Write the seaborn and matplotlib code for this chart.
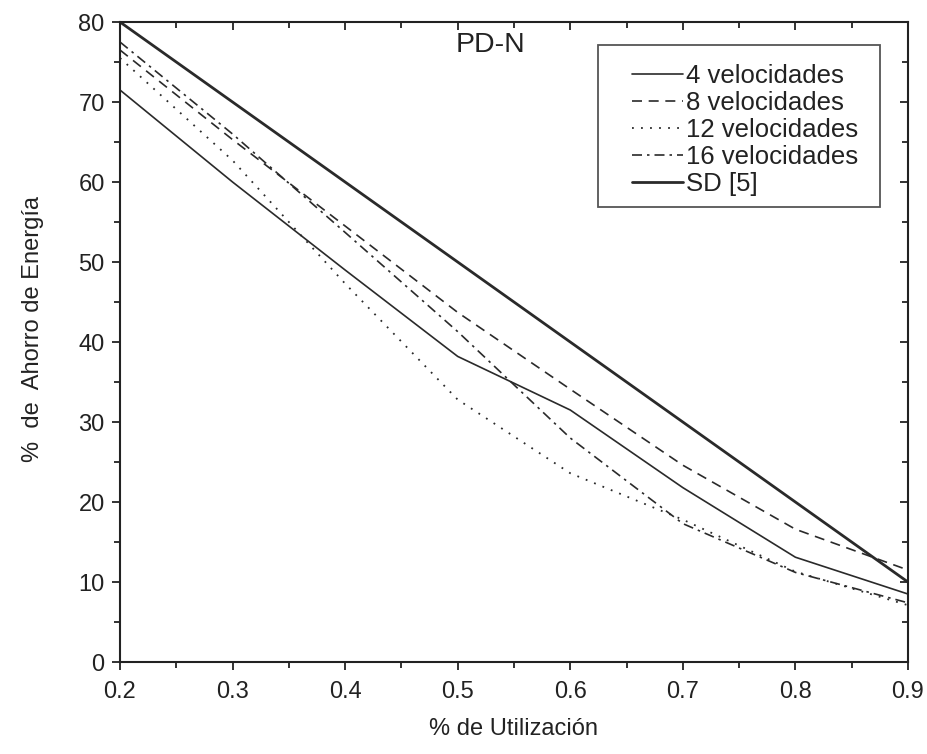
import matplotlib
matplotlib.use("Agg")
import matplotlib.pyplot as plt
from matplotlib.ticker import MultipleLocator
from matplotlib.patches import Rectangle
import seaborn as sns
import pandas as pd

utilizacion = [0.2, 0.3, 0.4, 0.5, 0.6, 0.7, 0.8, 0.9]
v4 = [71.5, 60.0, 49.0, 38.2, 31.5, 21.8, 13.1, 8.5]
v8 = [76.5, 65.3, 54.5, 43.7, 34.1, 24.6, 16.6, 11.5]
v12 = [75.5, 62.7, 47.3, 32.8, 23.6, 17.8, 11.3, 7.1]
v16 = [77.5, 66.0, 53.7, 41.3, 28.0, 17.3, 11.2, 7.4]
sd5 = [80, 70, 60, 50, 40, 30, 20, 10]
labels = ["4 velocidades", "8 velocidades", "12 velocidades", "16 velocidades", "SD [5]"]

sns.set_theme(style="white")
plt.rcParams['font.family'] = ['Liberation Sans', 'DejaVu Sans']

fig = plt.figure(figsize=(9.28, 7.54), dpi=100)
ax = fig.add_axes([0.1293, 0.122, 0.8491, 0.8488])

series = [v4, v8, v12, v16, sd5]
styles = [
    dict(linestyle='-', linewidth=1.2),
    dict(linestyle=(0, (6, 4)), linewidth=1.2),
    dict(linestyle=(0, (1, 4)), linewidth=1.3),
    dict(linestyle=(0, (6, 3, 1.5, 3)), linewidth=1.2),
    dict(linestyle='-', linewidth=2.0),
]
col = '#2a2a2a'
for vals, lab, st in zip(series, labels, styles):
    df = pd.DataFrame({'x': utilizacion, 'y': vals})
    sns.lineplot(data=df, x='x', y='y', ax=ax, color=col, label=lab, **st)

ax.set_xlim(0.2, 0.9)
ax.set_ylim(0, 80)
ax.xaxis.set_major_locator(MultipleLocator(0.1))
ax.xaxis.set_minor_locator(MultipleLocator(0.05))
ax.yaxis.set_major_locator(MultipleLocator(10))
ax.yaxis.set_minor_locator(MultipleLocator(5))
ax.set_xticklabels([f"{v:.1f}" for v in ax.get_xticks()])

ax.tick_params(which='both', direction='out', bottom=True, left=True, top=False, right=False,
               color='#222222', width=1.3, labelsize=17, labelcolor='#222222')
ax.tick_params(which='major', length=6, pad=5)
ax.tick_params(which='minor', length=4)
ax.tick_params(axis='x', which='major', pad=8)

# inward ticks on top and right via secondary axes
axt = ax.secondary_xaxis('top')
axt.xaxis.set_major_locator(MultipleLocator(0.1))
axt.xaxis.set_minor_locator(MultipleLocator(0.05))
axt.tick_params(which='both', direction='in', length=6, width=1.3, color='#222222', labeltop=False)
axt.tick_params(which='minor', length=4)
axr = ax.secondary_yaxis('right')
axr.yaxis.set_major_locator(MultipleLocator(10))
axr.yaxis.set_minor_locator(MultipleLocator(5))
axr.tick_params(which='both', direction='in', length=6, width=1.3, color='#222222', labelright=False)
axr.tick_params(which='minor', length=4)
for a in (axt, axr):
    for s in a.spines.values():
        s.set_visible(False)

for s in ax.spines.values():
    s.set_visible(True)
    s.set_color('#222222')
    s.set_linewidth(1.5)

ax.set_xlabel('% de Utilización', fontsize=17, color='#222222')
ax.set_ylabel('%  de  Ahorro de Energía', fontsize=17, color='#222222')
ax.xaxis.set_label_coords(0.5, -0.088)
ax.yaxis.set_label_coords(-0.0964, 0.52)

ax.text(0.529, 77.1, 'PD-N', fontsize=20.5, color='#222222', ha='center', va='center')

# legend box
ax.add_patch(Rectangle((0.6066, 0.711), 0.9645 - 0.6066, 0.964 - 0.711, transform=ax.transAxes,
                       facecolor='white', edgecolor='#555555', linewidth=1.3, zorder=4))
leg = ax.legend(loc='upper left', bbox_to_anchor=(0.6497, 0.934), fontsize=18.5, frameon=False,
                handlelength=2.0, handletextpad=0.12, labelspacing=0.11, borderpad=0.0,
                borderaxespad=0.0)
leg.set_zorder(5)
for t in leg.get_texts():
    t.set_color('#222222')

fig.savefig('out.png', dpi=100)
